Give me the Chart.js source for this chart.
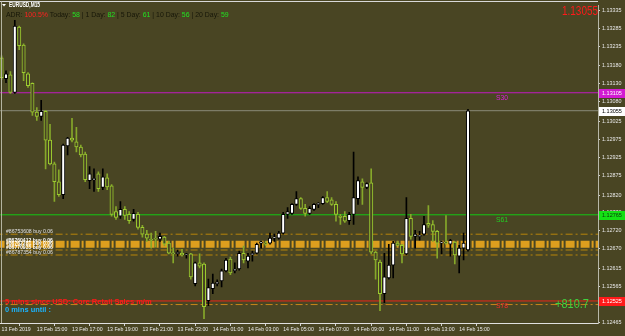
<!DOCTYPE html>
<html><head><meta charset="utf-8">
<script src="https://cdn.jsdelivr.net/npm/chart.js@4.4.1/dist/chart.umd.min.js"></script>
<style>html,body{margin:0;padding:0;background:#494523;overflow:hidden}</style>
</head><body>
<canvas id="c" width="625" height="336"></canvas>
<script>
// ---------- DATA ----------
const symbol = 'EURUSD,M15';
const opens = [1.13202,1.13144,1.13155,1.13106,1.13288,1.13238,1.13158,1.13131,1.13051,1.13039,
1.13053,1.12973,1.12907,1.12857,1.12821,1.12957,1.12979,1.12968,1.12954,1.12934,
1.12860,1.12863,1.12879,1.12841,1.12868,1.12846,1.12774,1.12761,1.12780,1.12766,
1.12752,1.12766,1.12730,1.12711,1.12697,1.12700,1.12697,1.12703,1.12686,1.12658,
1.12656,1.12658,1.12653,1.12656,1.12573,1.12631,1.12628,1.12526,1.12559,1.12573,
1.12581,1.12609,1.12642,1.12609,1.12614,1.12658,1.12636,1.12653,1.12658,1.12686,
1.12686,1.12686,1.12700,1.12700,1.12714,1.12766,1.12769,1.12794,1.12810,1.12783,
1.12769,1.12780,1.12794,1.12796,1.12813,1.12807,1.12794,1.12761,1.12761,1.12749,
1.12766,1.12810,1.12857,1.12841,1.12854,1.12661,1.12633,1.12545,1.12589,1.12625,
1.12686,1.12680,1.12656,1.12755,1.12705,1.12705,1.12711,1.12741,1.12738,1.12719,
1.12686,1.12689,1.12683,1.12689,1.12650,1.12672,1.12667];
const highs = [1.13208,1.13166,1.13164,1.13307,1.13291,1.13241,1.13161,1.13133,1.13064,1.13084,
1.13056,1.13017,1.12912,1.12890,1.12962,1.12981,1.13034,1.13009,1.12959,1.12940,
1.12899,1.12893,1.12885,1.12893,1.12879,1.12849,1.12788,1.12802,1.12788,1.12774,
1.12780,1.12772,1.12736,1.12722,1.12714,1.12719,1.12714,1.12705,1.12691,1.12672,
1.12667,1.12669,1.12658,1.12658,1.12633,1.12656,1.12631,1.12586,1.12600,1.12584,
1.12614,1.12644,1.12647,1.12631,1.12664,1.12678,1.12658,1.12664,1.12686,1.12691,
1.12691,1.12714,1.12711,1.12719,1.12772,1.12785,1.12796,1.12830,1.12813,1.12794,
1.12788,1.12796,1.12799,1.12816,1.12830,1.12813,1.12802,1.12766,1.12774,1.12772,
1.12940,1.12871,1.12865,1.12854,1.12893,1.12664,1.12639,1.12658,1.12683,1.12691,
1.12691,1.12683,1.12813,1.12766,1.12722,1.12719,1.12761,1.12791,1.12749,1.12722,
1.12691,1.12763,1.12697,1.12691,1.12680,1.12714,1.13059];
const lows = [1.13142,1.13133,1.13103,1.13103,1.13225,1.13139,1.13120,1.13042,1.13028,1.13028,
1.12893,1.12904,1.12802,1.12816,1.12810,1.12932,1.12968,1.12940,1.12926,1.12857,
1.12838,1.12830,1.12830,1.12835,1.12835,1.12761,1.12752,1.12755,1.12752,1.12741,
1.12747,1.12725,1.12703,1.12691,1.12672,1.12675,1.12691,1.12678,1.12656,1.12631,
1.12650,1.12650,1.12644,1.12586,1.12567,1.12617,1.12476,1.12512,1.12545,1.12567,
1.12564,1.12606,1.12598,1.12603,1.12611,1.12631,1.12617,1.12636,1.12656,1.12672,
1.12680,1.12683,1.12691,1.12697,1.12711,1.12755,1.12766,1.12791,1.12780,1.12761,
1.12766,1.12777,1.12785,1.12794,1.12799,1.12791,1.12747,1.12738,1.12744,1.12738,
1.12738,1.12794,1.12794,1.12838,1.12656,1.12586,1.12498,1.12520,1.12586,1.12589,
1.12678,1.12631,1.12653,1.12697,1.12672,1.12694,1.12708,1.12730,1.12691,1.12644,
1.12656,1.12683,1.12650,1.12628,1.12603,1.12639,1.12664];
const closes = [1.13147,1.13158,1.13106,1.13291,1.13236,1.13161,1.13125,1.13051,1.13039,1.13053,
1.12973,1.12907,1.12857,1.12821,1.12959,1.12979,1.12973,1.12954,1.12932,1.12863,
1.12879,1.12865,1.12838,1.12871,1.12843,1.12766,1.12758,1.12780,1.12763,1.12749,
1.12769,1.12730,1.12711,1.12700,1.12694,1.12697,1.12705,1.12683,1.12658,1.12656,
1.12661,1.12653,1.12656,1.12592,1.12631,1.12622,1.12509,1.12562,1.12575,1.12578,
1.12609,1.12639,1.12603,1.12614,1.12658,1.12639,1.12650,1.12658,1.12683,1.12689,
1.12683,1.12700,1.12703,1.12714,1.12766,1.12774,1.12794,1.12810,1.12783,1.12769,
1.12783,1.12794,1.12796,1.12813,1.12802,1.12794,1.12766,1.12758,1.12747,1.12766,
1.12813,1.12860,1.12841,1.12852,1.12661,1.12639,1.12545,1.12592,1.12625,1.12686,
1.12680,1.12656,1.12755,1.12705,1.12711,1.12708,1.12738,1.12736,1.12719,1.12686,
1.12689,1.12686,1.12694,1.12653,1.12672,1.12686,1.13055];
const timeTickIndex = [0,8,16,24,32,40,48,56,64,72,80,88,96,104];
const timeTickLabels = ['13 Feb 2019','13 Feb 15:00','13 Feb 17:00','13 Feb 19:00','13 Feb 21:00','13 Feb 23:00',
 '14 Feb 01:00','14 Feb 03:00','14 Feb 05:00','14 Feb 07:00','14 Feb 09:00','14 Feb 11:00','14 Feb 13:00','14 Feb 15:00'];
const priceTicks = [1.13335,1.13285,1.13235,1.13180,1.13130,1.13080,1.13025,1.12975,1.12925,1.12875,
 1.12820,1.12770,1.12720,1.12670,1.12615,1.12565,1.12515,1.12465];
const levelNames = ['S30','S61','S78'];
const levelPrices = [1.13105,1.12765,1.12525];
const bidPrice = 1.13055;
const orderLevels = [1.12711,1.12683,1.12667,1.12653];
const orderLevelsLow = [1.12515];
const orderLabels = ['#86753608 buy 0.06','#86760412 buy 0.06','#86762281 buy 0.06','#86770935 buy 0.06','#86787354 buy 0.06'];
const adr = {adr:'100.5%', today:'58', d1:'82', d5:'61', d10:'56', d20:'59'};
const pipsText = '+810.7';
const newsText = '5 mins since USD: Core Retail Sales m/m';
const untilText = '0 mins until :';

// ---------- STYLE ----------
const BG = '#494523';
const BULL_FILL = '#ffffff', BULL_LINE = '#000000';
const BEAR_LINE = '#9ccc2f', BEAR_WICK = '#86a82a';
const idx = opens.map((_, i) => i);
const isBull = i => closes[i] >= opens[i];
const X_MIN = -0.364, X_MAX = 135.55;
const Y_MIN = 1.124636, Y_MAX = 1.133488;

const hline = (p, color, width, dash, order) => ({
  type: 'line', data: [{x: X_MIN - 1, y: p}, {x: X_MAX + 1, y: p}],
  borderColor: color, borderWidth: width, borderDash: dash || [], pointRadius: 0,
  order: order || 3, fill: false
});

const datasets = [
  {type: 'bar', label: 'wicks', order: 1, grouped: false, barThickness: 1,
   data: idx.map(i => ({x: i, y: [lows[i], highs[i]]})),
   backgroundColor: ctx => isBull(ctx.dataIndex) ? BULL_LINE : BEAR_WICK, borderWidth: 0},
  {type: 'bar', label: 'bodies', order: 0, grouped: false, barThickness: 3.4, minBarLength: 1,
   data: idx.map(i => ({x: i, y: [opens[i], closes[i]]})),
   backgroundColor: ctx => isBull(ctx.dataIndex) ? BULL_FILL : BG,
   borderColor: ctx => isBull(ctx.dataIndex) ? BULL_LINE : BEAR_LINE,
   borderWidth: 1, borderSkipped: false},
  hline(levelPrices[0], '#c21ac2', 1),
  hline(bidPrice, '#8a8a78', 1),
  hline(levelPrices[1], '#14c814', 1),
  hline(orderLevels[0], '#b8860b', 1, [7,3,2,3]),
  hline(orderLevels[1], '#dc9e1e', 7, [9,2,2,2]),
  hline(orderLevels[2], '#b8860b', 1, [7,3,2,3]),
  hline(orderLevels[3], '#b8860b', 1, [7,3,2,3]),
  hline(levelPrices[2], '#e8261a', 1),
  hline(orderLevelsLow[0], '#c8861b', 1, [7,3,2,3]),
];

const F = '"Liberation Sans", Arial, sans-serif';
function fit(ctx, text, width, weight, family) {
  ctx.font = `${weight} 20px ${family}`;
  const w = ctx.measureText(text).width;
  const s = 20 * width / w;
  ctx.font = `${weight} ${s}px ${family}`;
  return s;
}
// draw text of given font size squeezed horizontally to a target width
function squeeze(ctx, text, x, y, size, width, weight, align) {
  ctx.font = `${weight} ${size}px ${F}`;
  const w = ctx.measureText(text).width;
  ctx.save(); ctx.translate(x, y); ctx.scale(width / w, 1);
  ctx.textAlign = align; ctx.fillText(text, 0, 0); ctx.restore();
}

const overlay = {
  id: 'overlay',
  beforeDraw(chart) {
    const c = chart.ctx; c.save(); c.fillStyle = BG; c.fillRect(0, 0, chart.width, chart.height); c.restore();
  },
  afterDraw(chart) {
    const c = chart.ctx, ys = chart.scales.y, a = chart.chartArea;
    c.save();
    c.strokeStyle = '#d8d8d8'; c.lineWidth = 1;
    c.beginPath(); c.moveTo(0, 1.5); c.lineTo(a.right, 1.5); c.stroke();
    c.strokeStyle = '#b4b4a0';
    c.beginPath(); c.moveTo(1.5, 1.5); c.lineTo(1.5, a.bottom); c.stroke();
    c.textBaseline = 'middle'; c.textAlign = 'left';
    // header
    c.fillStyle = '#ffffff';
    c.beginPath(); c.moveTo(2, 4); c.lineTo(6, 4); c.lineTo(4, 6.5); c.closePath(); c.fill();
    squeeze(c, symbol, 9, 5.5, 6.5, 31, 'bold', 'left');
    const segs = [['ADR: ', '#161608'], [adr.adr, '#ff2020'], [' Today: ', '#161608'], [adr.today, '#22e022'],
      [' | 1 Day: ', '#161608'], [adr.d1, '#22e022'], [' | 5 Day: ', '#161608'], [adr.d5, '#22e022'],
      [' | 10 Day: ', '#161608'], [adr.d10, '#22e022'], [' | 20 Day: ', '#161608'], [adr.d20, '#22e022']];
    const whole = segs.map(s => s[0]).join('');
    fit(c, whole, 223, 'normal', F);
    let x = 6;
    for (const [t, col] of segs) { c.fillStyle = col; c.fillText(t, x, 15.5); x += c.measureText(t).width; }
    // bid big
    c.fillStyle = '#ff1a1a';
    squeeze(c, bidPrice.toFixed(5), 598, 11, 13.5, 36, 'normal', 'right');
    // level names
    const lvlCol = ['#dc20dc', '#22d022', '#ff2a2a'];
    levelNames.forEach((n, k) => {
      c.fillStyle = lvlCol[k];
      squeeze(c, n, 496, ys.getPixelForValue(levelPrices[k]) + 5, 7.5, 12, 'normal', 'left');
    });
    // pips
    c.fillStyle = '#3ed23e';
    squeeze(c, pipsText, 555, ys.getPixelForValue(levelPrices[2]) + 4, 12.5, 34, 'normal', 'left');
    // order labels
    c.fillStyle = '#e0e0e0'; fit(c, orderLabels[0], 47, 'normal', F);
    c.fillText(orderLabels[0], 6, ys.getPixelForValue(orderLevels[0]) - 3);
    c.fillStyle = '#ffffff';
    fit(c, orderLabels[1], 47, 'bold', F);
    [1, 2, 3].forEach((k, j) => c.fillText(orderLabels[k], 6, ys.getPixelForValue(orderLevels[1]) - 4 + j * 3.5));
    c.fillStyle = '#e0e0e0'; fit(c, orderLabels[4], 47, 'normal', F);
    c.fillText(orderLabels[4], 6, ys.getPixelForValue(orderLevels[3]) - 2);
    // news
    c.fillStyle = '#ff1a1a'; fit(c, newsText, 147, 'bold', F); c.fillText(newsText, 5, 301.5);
    c.fillStyle = '#1ab4ff'; fit(c, untilText, 46, 'bold', F); c.fillText(untilText, 5, 310);
    // right price boxes
    const boxes = [[levelPrices[0], '#d21ad2', '#ffffff'], [bidPrice, '#ffffff', '#000000'],
      [levelPrices[1], '#14e014', '#0a3a0a'], [levelPrices[2], '#ff1a1a', '#ffffff']];
    for (const [p, bgc, fg] of boxes) {
      const yy = Math.round(ys.getPixelForValue(p));
      c.fillStyle = bgc; c.fillRect(599, yy - 4, 26, 9);
      c.fillStyle = fg; fit(c, p.toFixed(5), 20, 'normal', F); c.textAlign = 'left';
      c.fillText(p.toFixed(5), 602, yy + 0.5);
    }
    c.restore();
  }
};

new Chart(document.getElementById('c'), {
  type: 'bar',
  data: {datasets},
  plugins: [overlay],
  options: {
    responsive: false, animation: false, devicePixelRatio: 1,
    layout: {padding: {left: 0, right: 0, top: 2, bottom: 0}},
    plugins: {legend: {display: false}, tooltip: {enabled: false}},
    scales: {
      x: {
        type: 'linear', min: X_MIN, max: X_MAX, offset: false,
        afterBuildTicks: s => { s.ticks = timeTickIndex.map(v => ({value: v})); },
        afterFit: s => { s.height = 13; },
        grid: {drawOnChartArea: false, drawTicks: true, tickLength: 3, color: '#d0d0d0'},
        border: {display: true, color: '#e0e0e0'},
        ticks: {autoSkip: false, maxRotation: 0, align: 'start', padding: 0, color: '#e8e8e8',
          font: {family: F, size: 5.2},
          callback: (v, i) => timeTickLabels[i]}
      },
      y: {
        type: 'linear', position: 'right', min: Y_MIN, max: Y_MAX,
        afterBuildTicks: s => { s.ticks = priceTicks.map(v => ({value: v})); },
        afterFit: s => { s.width = 27; },
        grid: {drawOnChartArea: false, drawTicks: true, tickLength: 2, color: '#d0d0d0'},
        border: {display: true, color: '#b8b8a8'},
        ticks: {autoSkip: false, padding: 2, color: '#e8e8e8',
          font: {family: F, size: 5.4},
          callback: v => Number(v).toFixed(5)}
      }
    }
  }
});
</script>
</body></html>
